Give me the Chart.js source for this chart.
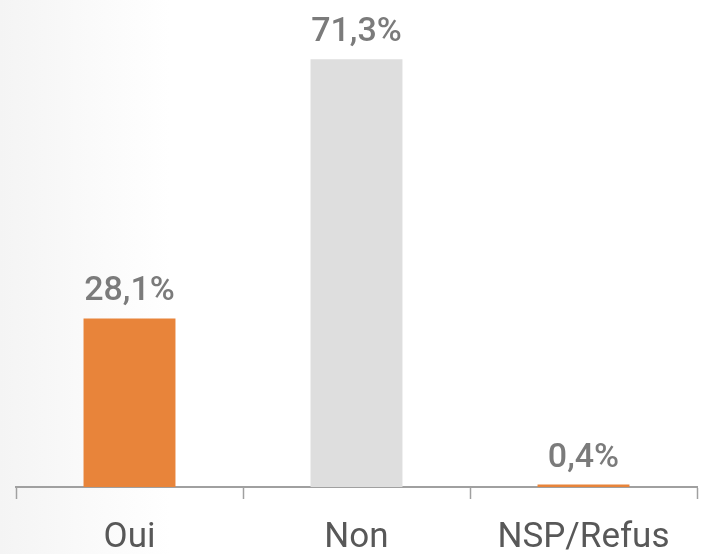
<!DOCTYPE html>
<html>
<head>
<meta charset="utf-8">
<script src="https://cdn.jsdelivr.net/npm/chart.js@4/dist/chart.umd.min.js"></script>
<style>
  html, body { margin: 0; padding: 0; }
  body { background: linear-gradient(to right, #f4f4f4 0px, #fafafa 90px, #ffffff 170px); }
  #wrap { width: 701px; height: 554px; position: relative; }
</style>
</head>
<body>
<div id="wrap"><canvas id="chart"></canvas></div>
<script>
// Categories and values (percent)
const categories = ['Oui', 'Non', 'NSP/Refus'];
const values = [28.1, 71.3, 0.4];
const valueLabels = ['28,1%', '71,3%', '0,4%'];
const barColors = ['#e8843a', '#dedede', '#e8843a'];

// Draws the percent above every bar
const valueLabelPlugin = {
  id: 'valueLabels',
  afterDatasetsDraw(chart) {
    const ctx = chart.ctx;
    const meta = chart.getDatasetMeta(0);
    ctx.save();
    ctx.font = '500 34px Roboto';
    ctx.fillStyle = '#7b7b7b';
    ctx.textAlign = 'center';
    ctx.textBaseline = 'alphabetic';
    meta.data.forEach(function (bar, i) {
      ctx.fillText(valueLabels[i], bar.x, bar.y - 18);
    });
    ctx.restore();
  }
};

new Chart(document.getElementById('chart'), {
  type: 'bar',
  data: {
    labels: categories,
    datasets: [{
      data: values,
      backgroundColor: barColors,
      borderWidth: 0,
      categoryPercentage: 1,
      barPercentage: 0.405
    }]
  },
  options: {
    responsive: true,
    maintainAspectRatio: false,
    animation: false,
    layout: { padding: { left: 16, right: 4, top: 7, bottom: 0 } },
    plugins: {
      legend: { display: false },
      tooltip: { enabled: false }
    },
    scales: {
      x: {
        // fixed axis height so the baseline sits where the original one does
        afterFit: function (scale) { scale.height = 67; },
        grid: {
          display: true,
          drawOnChartArea: false,
          drawTicks: true,
          tickLength: 12,
          tickWidth: 1.5,
          tickColor: '#a0a0a0'
        },
        border: { display: true, color: '#a0a0a0', width: 2 },
        ticks: {
          color: '#585858',
          padding: 18,
          font: { family: 'Roboto', size: 35, weight: 'normal' }
        }
      },
      y: {
        display: false,
        min: 0,
        max: 80
      }
    }
  },
  plugins: [valueLabelPlugin]
});
</script>
</body>
</html>
